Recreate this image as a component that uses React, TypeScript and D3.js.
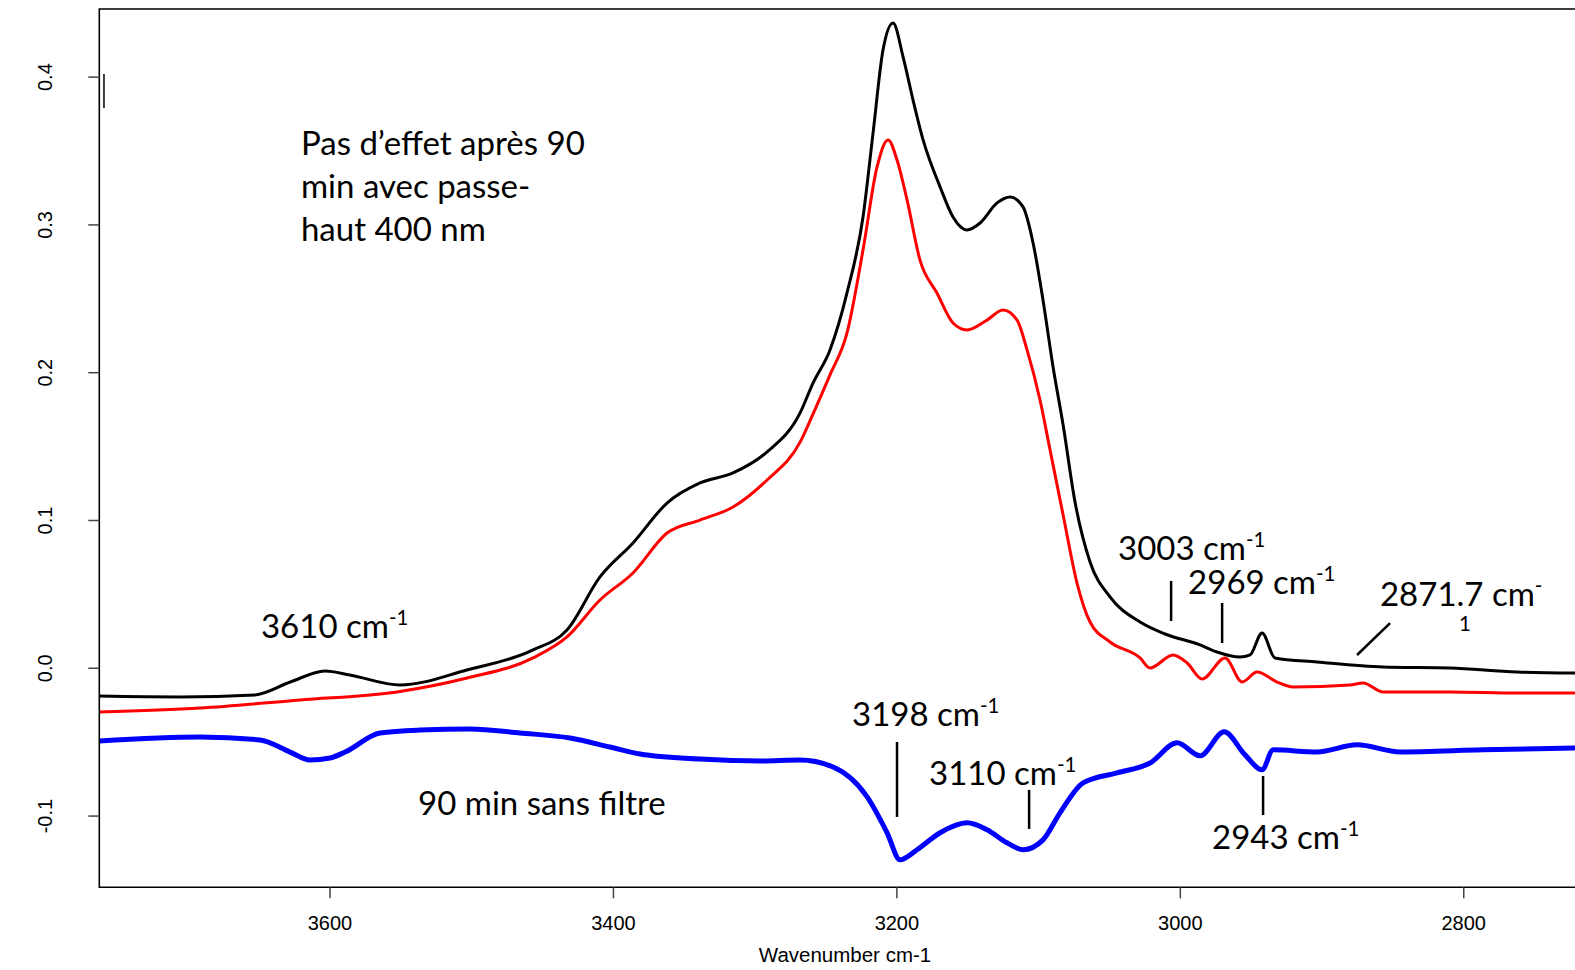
import React from "react";
import * as d3 from "d3";

// ---- data (wavenumber cm-1, absorbance) ----
const blackWn = [3763, 3706, 3653, 3628, 3603.5, 3586, 3550.6, 3503.5, 3456.7, 3432.8, 3409.5, 3386.2, 3362.2, 3338.9, 3315.6, 3291.6, 3268.3, 3259.2, 3247.2, 3235.2, 3223.9, 3216.8, 3209.8, 3202.7, 3195.6, 3188.6, 3181.5, 3169.5, 3160.4, 3150.5, 3141.3, 3129.3, 3120.1, 3111.0, 3103.9, 3096.9, 3089.8, 3082.7, 3074.3, 3063.7, 3049.6, 3028.4, 3010.7, 2986.1, 2974.1, 2957.9, 2950.8, 2942.3, 2933.2, 2903.5, 2856.9, 2809.6, 2762.4, 2717.9];
const blackAbs = [-0.0188, -0.0194, -0.018, -0.0093, -0.0018, -0.0045, -0.0113, -0.0012, 0.0124, 0.0259, 0.0618, 0.0848, 0.1118, 0.1254, 0.1322, 0.1464, 0.1728, 0.193, 0.2154, 0.254, 0.3054, 0.3623, 0.4183, 0.4366, 0.4136, 0.3845, 0.3575, 0.3257, 0.3054, 0.2966, 0.3013, 0.3149, 0.3189, 0.3122, 0.2878, 0.2492, 0.2039, 0.1646, 0.1125, 0.0719, 0.0483, 0.0313, 0.0232, 0.0158, 0.011, 0.0076, 0.009, 0.0239, 0.007, 0.0043, 0.0009, 0.0002, -0.0025, -0.0032];

const redWn = [3763, 3691.7, 3621.2, 3552.7, 3503.3, 3456.7, 3432.8, 3409.5, 3386.2, 3362.2, 3338.9, 3315.6, 3291.6, 3268.3, 3259.2, 3247.2, 3235.2, 3223.9, 3214.0, 3206.2, 3199.9, 3192.8, 3183.7, 3171.7, 3160.4, 3150.5, 3136.4, 3125.1, 3115.2, 3108.1, 3099.0, 3091.9, 3082.7, 3072.9, 3063.7, 3049.6, 3028.4, 3021.4, 3005.1, 2995.2, 2984.6, 2968.4, 2956.4, 2945.8, 2931.7, 2920.4, 2880.2, 2871.0, 2856.9, 2809.6, 2762.4, 2717.9];
const redAbs = [-0.0296, -0.0269, -0.0214, -0.016, -0.0066, 0.007, 0.0212, 0.0462, 0.0645, 0.0915, 0.1003, 0.1091, 0.1274, 0.153, 0.172, 0.1985, 0.2269, 0.283, 0.3392, 0.3575, 0.3439, 0.3168, 0.2762, 0.2539, 0.2336, 0.2289, 0.2356, 0.2424, 0.2356, 0.2153, 0.1815, 0.1477, 0.1037, 0.0577, 0.0313, 0.0178, 0.007, 0.0002, 0.009, 0.0036, -0.0072, 0.007, -0.0093, -0.0025, -0.0093, -0.0127, -0.0113, -0.0099, -0.016, -0.016, -0.0167, -0.0167];

const blueWn = [3763, 3691.7, 3649.4, 3628.2, 3614.1, 3600, 3589.4, 3564.7, 3536.5, 3501.2, 3465.9, 3430.6, 3402.4, 3381.2, 3338.9, 3296.6, 3268.3, 3245.0, 3221.0, 3206.9, 3197.8, 3185.8, 3169.5, 3150.5, 3136.4, 3122.3, 3110.9, 3096.9, 3084.9, 3068.6, 3044.6, 3021.4, 3002.3, 2986.1, 2969.1, 2954.3, 2942.3, 2934.5, 2903.5, 2875.3, 2844.9, 2786.4, 2717.9];
const blueAbs = [-0.0492, -0.0465, -0.0485, -0.0567, -0.0621, -0.0607, -0.0567, -0.0438, -0.0418, -0.0411, -0.0438, -0.0472, -0.0533, -0.058, -0.0614, -0.0627, -0.0621, -0.0668, -0.087, -0.1113, -0.1296, -0.1228, -0.1113, -0.1046, -0.1093, -0.1181, -0.1228, -0.1161, -0.0978, -0.0775, -0.0708, -0.0641, -0.0504, -0.0592, -0.043, -0.0586, -0.0687, -0.0552, -0.0566, -0.0518, -0.0566, -0.0552, -0.0539];

const xTicks = [3600, 3400, 3200, 3000, 2800];
const yTicks = [0.4, 0.3, 0.2, 0.1, 0.0, -0.1];
const xTitle = "Wavenumber cm-1";

// annotation texts
const noteLines = ["Pas d\u2019effet apr\u00e8s 90", "min avec passe-", "haut 400 nm"];
const peakLabels = ["3610", "3003", "2969", "3198", "3110", "2943"];
const peakMarks = [3006.5, 2970.5, 3199.9, 3106.7, 2941.6];

export default function App() {
  const W = 1575, H = 970;
  const left = 99.3, top = 9, bottom = 887.3, right = 1575;
  const x = d3.scaleLinear().domain([3762.8, 2721.5]).range([left, right]);
  const y = d3.scaleLinear().domain([-0.1482, 0.4461]).range([bottom, top]);

  const mk = (wn: number[], ab: number[]) => {
    const pts = wn.map((w, i) => [w, ab[i]] as [number, number]);
    return d3.line<[number, number]>().x(d => x(d[0])).y(d => y(d[1])).curve(d3.curveMonotoneX)(pts) || "";
  };

  const axisFont = "'Liberation Sans', Arial, sans-serif";
  const noteFont = "Lato, 'Open Sans', sans-serif";
  const fs = 33;

  const Lab = ({ wn, ab, main, sup }: { wn: number; ab: number; main: string; sup: string }) => (
    <text x={x(wn)} y={y(ab)} fontFamily={noteFont} fontSize={fs} fill="#000">
      {main}
      <tspan fontSize={fs * 0.62} dy={-13}>{sup}</tspan>
    </text>
  );

  // annotation anchors (wavenumber, absorbance)
  const labPos: [number, number][] = [
    [3648.7, 0.0205],
    [3043.9, 0.0733],
    [2994.5, 0.0503],
    [3231.6, -0.039],
    [3177.3, -0.0789],
    [2977.6, -0.1222],
  ];
  const markY: [number, number][] = [
    [0.0591, 0.032],
    [0.0442, 0.0171],
    [-0.0499, -0.1006],
    [-0.0823, -0.1087],
    [-0.0729, -0.0993],
  ];

  return (
    <svg width={W} height={H} style={{ position: "absolute", left: 0, top: 0, background: "#fff" }}>
      <defs>
        <clipPath id="plot">
          <rect x={left} y={top} width={right - left + 10} height={bottom - top} />
        </clipPath>
      </defs>
      <rect x={0} y={0} width={W} height={H} fill="#fff" />
      <g clipPath="url(#plot)" fill="none">
        <path d={mk(blueWn, blueAbs)} stroke="#0000ff" strokeWidth={5} strokeLinejoin="round" />
        <path d={mk(redWn, redAbs)} stroke="#ff0000" strokeWidth={3} strokeLinejoin="round" />
        <path d={mk(blackWn, blackAbs)} stroke="#000" strokeWidth={3} strokeLinejoin="round" />
      </g>
      {/* box */}
      <path d={`M${right + 5},${top}H${left}V${bottom}H${right + 5}`} fill="none" stroke="#000" strokeWidth={1.6} />
      {/* x ticks */}
      {xTicks.map(t => (
        <g key={t}>
          <line x1={x(t)} x2={x(t)} y1={bottom} y2={bottom + 11} stroke="#444" strokeWidth={1.5} />
          <text x={x(t)} y={930} textAnchor="middle" fontFamily={axisFont} fontSize={20} fill="#000">{t}</text>
        </g>
      ))}
      <text x={845} y={962} textAnchor="middle" fontFamily={axisFont} fontSize={20.5} fill="#000">{xTitle}</text>
      {/* y ticks */}
      {yTicks.map(t => (
        <g key={t}>
          <line x1={left - 11} x2={left} y1={y(t)} y2={y(t)} stroke="#444" strokeWidth={1.5} />
          <text transform={`translate(51.5,${y(t)}) rotate(-90)`} textAnchor="middle" fontFamily={axisFont} fontSize={20} fill="#000">{t.toFixed(1)}</text>
        </g>
      ))}
      {/* stray mark */}
      <line x1={x(3759.5)} x2={x(3759.5)} y1={y(0.4021)} y2={y(0.3791)} stroke="#000" strokeWidth={1.5} />

      {/* note */}
      {noteLines.map((s, i) => (
        <text key={i} x={x(3620.5)} y={y(0.3473 - i * 0.0291)} fontFamily={noteFont} fontSize={fs} fill="#000">{s}</text>
      ))}
      <text x={x(3537.9)} y={y(-0.0993)} fontFamily={noteFont} fontSize={fs} fill="#000">90 min sans filtre</text>

      {peakLabels.map((p, i) => (
        <Lab key={p} wn={labPos[i][0]} ab={labPos[i][1]} main={`${p} cm`} sup="-1" />
      ))}
      <Lab wn={2859.1} ab={0.0422} main="2871.7 cm" sup="-" />
      <text x={x(2803.3)} y={y(0.0252)} fontFamily={noteFont} fontSize={fs * 0.62} fill="#000">1</text>

      {/* marker lines */}
      {peakMarks.map((w, i) => (
        <line key={w} x1={x(w)} x2={x(w)} y1={y(markY[i][0])} y2={y(markY[i][1])} stroke="#000" strokeWidth={2.5} />
      ))}
      <line x1={x(2852.0)} y1={y(0.0306)} x2={x(2875.3)} y2={y(0.009)} stroke="#000" strokeWidth={2.5} />
    </svg>
  );
}
